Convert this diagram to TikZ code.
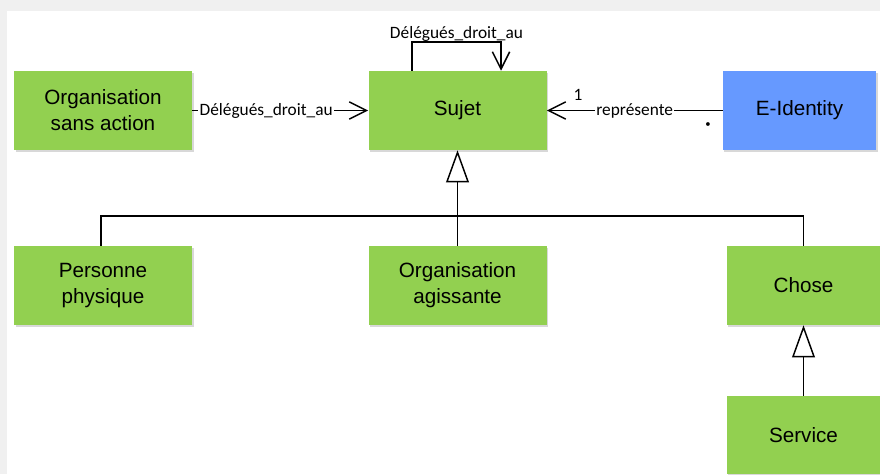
\documentclass[tikz,border=0pt]{standalone}
\usepackage{fontspec}
\setmainfont{Liberation Sans}
\newfontfamily\assocfont{Carlito}
\usepackage{xcolor}
\usetikzlibrary{arrows.meta,positioning,shadows}
\definecolor{classgreen}{HTML}{92D050}
\definecolor{identblue}{HTML}{6699FF}
\definecolor{framegray}{HTML}{F0F0F0}

\begin{document}
\begin{tikzpicture}[x=0.75pt,y=-0.75pt,
  classe/.style={rectangle, fill=classgreen, minimum width=133.5pt, minimum height=59.25pt,
    inner sep=0pt, align=center, font=\fontsize{15.5}{19.5}\selectfont,
    drop shadow={shadow xshift=1.2pt,shadow yshift=-1.2pt,opacity=.3}},
  narrow/.style={minimum width=115pt},
  assoc/.style={line width=1.1pt, -{Straight Barb[length=13pt,width=13pt]}},
  heritage/.style={line width=1.1pt, -{Triangle[open,length=24pt,width=17pt,line width=1.1pt]}},
  rolelabel/.style={fill=white, inner sep=1pt, font=\assocfont\fontsize{13}{15}\selectfont}]
\clip (0,0) rectangle (880,474);
\fill[framegray] (0,0) rectangle (880,474);
\fill[white] (7,11) rectangle (880,474);
%\draw[help lines] (0,0) grid[step=50] (880,474);

\node[classe] (osa) at (103,110.5) {Organisation\\sans action};
\node[classe] (sujet) at (457.5,110.5) {Sujet};
\node[classe,narrow,fill=identblue] (eid) at (799.5,110.5) {E-Identity};
\node[classe] (pp) at (103,285.5) {Personne\\physique};
\node[classe] (oa) at (457.5,285.5) {Organisation\\agissante};
\node[classe,narrow] (chose) at (803.5,285.5) {Chose};
\node[classe,narrow,minimum height=58.5pt] (service) at (803.5,435) {Service};

% associations
\coordinate (loopa) at (412,42);
\coordinate (loopb) at (501,42);
\draw[assoc] (sujet.north -| loopa) -- (loopa) -- node[rolelabel,fill=none,above=-1pt] {Délégués\_droit\_au} (loopb) -- (sujet.north -| loopb);
\draw[assoc] (osa) -- node[rolelabel,pos=.42] {Délégués\_droit\_au} (sujet);
\draw[assoc] (eid) -- node[rolelabel,pos=.5] {représente} (sujet);
\node[rolelabel,fill=none] (un) at (578,95) {1};
\node[rolelabel,fill=none,font=\assocfont\fontsize{8}{9}\selectfont] (plusieurs) at (708,125) {•};

% generalisation
\coordinate (hub) at (457.5,216);
\draw[heritage] (oa) -- (sujet);
\draw[line width=1.1pt] (pp.north -| 101,0) |- (hub) -| (chose.north);
\draw[heritage] (service) -- (chose);
\end{tikzpicture}
\end{document}
